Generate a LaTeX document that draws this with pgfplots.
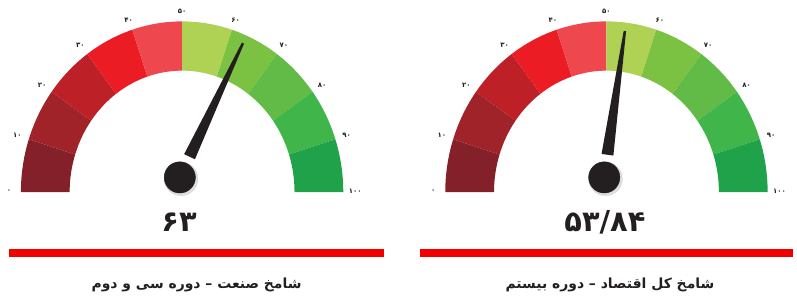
\documentclass[border=0pt]{standalone}
\usepackage{pgfplots}
\pgfplotsset{compat=1.18}
\usepackage{pgfplotstable}
\usetikzlibrary{calc}
\usepackage{fontspec}
\TeXXeTstate=1
\newfontfamily\fa[Script=Arabic]{DejaVu Sans}

\definecolor{s0}{HTML}{83202A}
\definecolor{s1}{HTML}{A0232A}
\definecolor{s2}{HTML}{BD2026}
\definecolor{s3}{HTML}{EB1C24}
\definecolor{s4}{HTML}{EE484E}
\definecolor{s5}{HTML}{AFD255}
\definecolor{s6}{HTML}{7CC242}
\definecolor{s7}{HTML}{62BB46}
\definecolor{s8}{HTML}{3FB54A}
\definecolor{s9}{HTML}{1FA24A}
\definecolor{ink}{HTML}{231F20}
\definecolor{bar}{HTML}{F20000}

% gauge centre x, ball x, needle value
\pgfplotstableread{
cx bx value
183 180.7 63
609.5 607.3 53.84
}\gauges
\pgfplotstablegetelem{0}{value}\of\gauges \edef\vA{\pgfplotsretval}
\pgfplotstablegetelem{1}{value}\of\gauges \edef\vB{\pgfplotsretval}

\newcommand\gaugebands[1]{%
  \foreach \i/\c in {0/s0,1/s1,2/s2,3/s3,4/s4,5/s5,6/s6,7/s7,8/s8,9/s9}{%
    \pgfmathsetmacro\ta{180-18*\i}%
    \pgfmathsetmacro\tb{180-18*(\i+1)}%
    \fill[\c] ($(axis cs:#1,105)+(\ta:162pt and 171.5pt)$)
      arc[start angle=\ta,end angle=\tb,x radius=162pt,y radius=171.5pt]
      -- ($(axis cs:#1,105)+(\tb:113pt and 122pt)$)
      arc[start angle=\tb,end angle=\ta,x radius=113pt,y radius=122pt] -- cycle;
  }%
  \foreach \v/\t in {0/۰,10/۱۰,20/۲۰,30/۳۰,40/۴۰,50/۵۰,60/۶۰,70/۷۰,80/۸۰,90/۹۰,100/۱۰۰}{%
    \pgfmathsetmacro\ta{180-1.8*\v}%
    \node[inner sep=0pt,text=ink] at ($(axis cs:#1,106)+(\ta:174pt and 181pt)$)
      {\fa\bfseries\fontsize{7}{7}\selectfont \t};
  }%
}
\newcommand\needle[3]{% centre x, ball x, value
  \pgfmathsetmacro\ang{180-1.8*#3}%
  \coordinate (T) at ($(axis cs:#1,105)+(\ang:154pt and 163pt)$);
  \coordinate (B0) at (axis cs:#2,119.7);
  \coordinate (B) at ($(B0)!23pt!(T)$);
  \fill[ink] ($(B)!6pt!90:(T)$) -- ($(T)!1.2pt!-90:(B)$) -- ($(T)!1.2pt!90:(B)$) -- ($(B)!6pt!-90:(T)$) -- cycle;
}

\begin{document}
\begin{tikzpicture}
\begin{axis}[x=1pt,y=1pt,xmin=0,xmax=797,ymin=0,ymax=298,
  hide axis,scale only axis,clip=false,anchor=south west,at={(0,0)}]
\path (axis cs:0,0) (axis cs:797,298);
\pgfplotsextra{\gaugebands{183}\gaugebands{609.5}}
\pgfplotsextra{\needle{183}{180.7}{\vA}\needle{609.5}{607.3}{\vB}}
\addplot[only marks,mark=*,mark size=17pt,color=black!25,opacity=0.5] table[x expr=\thisrow{bx}+1.2,y expr=118.3] {\gauges};
\addplot[only marks,mark=*,mark size=15.7pt,color=ink] table[x=bx,y expr=119.7] {\gauges};
\draw[bar,line width=8pt] (axis cs:9,44) -- (axis cs:385.5,44);
\draw[bar,line width=8pt] (axis cs:421.7,44) -- (axis cs:797,44);
\node[text=ink] at (axis cs:180,75) {\fa\bfseries\fontsize{29}{29}\selectfont ۶۳};
\node[text=ink] at (axis cs:608,75) {\fa\bfseries\fontsize{29}{29}\selectfont ۵۳/۸۴};
\node[text=ink] at (axis cs:197.5,12) {\fa\bfseries\fontsize{14}{14}\selectfont\beginR شامخ صنعت – دوره سی و دوم\endR};
\node[text=ink] at (axis cs:613,12) {\fa\bfseries\fontsize{14}{14}\selectfont\beginR شامخ کل اقتصاد – دوره بیستم\endR};
\end{axis}
\end{tikzpicture}
\end{document}
